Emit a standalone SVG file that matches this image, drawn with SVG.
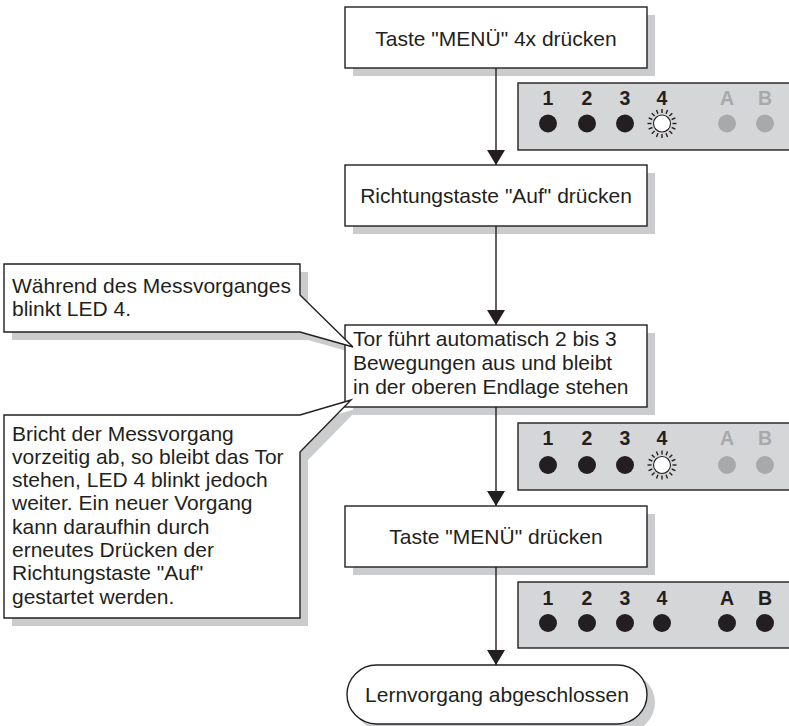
<svg xmlns="http://www.w3.org/2000/svg" width="789" height="726" viewBox="0 0 789 726">
<style>
.bg{fill:#ffffff}
.box{fill:#ffffff;stroke:#231f20;stroke-width:1.4}
.sh{fill:#cbcccd;stroke:none}
.panel{fill:#d5d6d8;stroke:#231f20;stroke-width:1.4}
.t{font-family:"Liberation Sans",Arial,sans-serif;font-size:21px;fill:#231f20}
.c{text-anchor:middle}
.num{font-family:"Liberation Sans",Arial,sans-serif;font-size:19.5px;font-weight:bold;fill:#231f20;text-anchor:middle}
.off{fill:#a8a9ab}
.led{fill:#231f20}
.ledoff{fill:#a8a9ab}
.conn line{stroke:#231f20;stroke-width:1.4}
</style>
<defs>
<marker id="ah" markerWidth="15" markerHeight="18" refX="15" refY="9" orient="auto" markerUnits="userSpaceOnUse" viewBox="0 0 15 18">
<path d="M0,0 L15,9 L0,18 Z" fill="#231f20"/>
</marker>
<g id="blink">
<circle r="8.5" fill="#ffffff" stroke="#231f20" stroke-width="1.1"/>
<g stroke="#231f20" stroke-width="1.4">
<line x1="0" y1="-10.5" x2="0" y2="-14.5"/>
<line x1="0" y1="-10.5" x2="0" y2="-14.5" transform="rotate(22.5)"/>
<line x1="0" y1="-10.5" x2="0" y2="-14.5" transform="rotate(45)"/>
<line x1="0" y1="-10.5" x2="0" y2="-14.5" transform="rotate(67.5)"/>
<line x1="0" y1="-10.5" x2="0" y2="-14.5" transform="rotate(90)"/>
<line x1="0" y1="-10.5" x2="0" y2="-14.5" transform="rotate(112.5)"/>
<line x1="0" y1="-10.5" x2="0" y2="-14.5" transform="rotate(135)"/>
<line x1="0" y1="-10.5" x2="0" y2="-14.5" transform="rotate(157.5)"/>
<line x1="0" y1="-10.5" x2="0" y2="-14.5" transform="rotate(180)"/>
<line x1="0" y1="-10.5" x2="0" y2="-14.5" transform="rotate(202.5)"/>
<line x1="0" y1="-10.5" x2="0" y2="-14.5" transform="rotate(225)"/>
<line x1="0" y1="-10.5" x2="0" y2="-14.5" transform="rotate(247.5)"/>
<line x1="0" y1="-10.5" x2="0" y2="-14.5" transform="rotate(270)"/>
<line x1="0" y1="-10.5" x2="0" y2="-14.5" transform="rotate(292.5)"/>
<line x1="0" y1="-10.5" x2="0" y2="-14.5" transform="rotate(315)"/>
<line x1="0" y1="-10.5" x2="0" y2="-14.5" transform="rotate(337.5)"/>
</g>
</g>
</defs>
<rect class="bg" x="0" y="0" width="789" height="726"/>

<!-- shadows -->
<g id="shadows">
<rect class="sh" x="353" y="15" width="302" height="61"/>
<rect class="sh" x="353" y="173" width="302" height="61"/>
<rect class="sh" x="353" y="333" width="302" height="82"/>
<rect class="sh" x="353" y="514" width="302" height="61"/>
<rect class="sh" x="355" y="673" width="300" height="59" rx="29.5" ry="29.5"/>
<path class="sh" d="M12,272 H308 V303 L361,355 L308,340 H12 Z"/>
<path class="sh" d="M12,423 H308 L359,408 L308,460 V626 H12 Z"/>
</g>

<!-- connectors -->
<g id="connectors" class="conn">
<line x1="496" y1="68" x2="496" y2="165" marker-end="url(#ah)"/>
<line x1="496" y1="226" x2="496" y2="325" marker-end="url(#ah)"/>
<line x1="496" y1="407" x2="496" y2="506" marker-end="url(#ah)"/>
<line x1="496" y1="567" x2="496" y2="665" marker-end="url(#ah)"/>
</g>

<g id="step1">
<rect class="box" x="345" y="7" width="302" height="61"/>
<text class="t c" x="496" y="45.5">Taste "MENÜ" 4x drücken</text>
</g>

<g id="panel1">
<rect class="panel" x="518" y="83" width="290" height="67"/>
<text class="num" x="548" y="105">1</text>
<text class="num" x="587" y="105">2</text>
<text class="num" x="625" y="105">3</text>
<text class="num" x="662" y="105">4</text>
<text class="num off" x="727" y="105">A</text>
<text class="num off" x="765" y="105">B</text>
<circle class="led" cx="548" cy="123.5" r="9"/>
<circle class="led" cx="587" cy="123.5" r="9"/>
<circle class="led" cx="625" cy="123.5" r="9"/>
<use href="#blink" x="662" y="123.5"/>
<circle class="ledoff" cx="727" cy="123.5" r="9"/>
<circle class="ledoff" cx="765" cy="123.5" r="9"/>
</g>

<g id="step2">
<rect class="box" x="345" y="165" width="302" height="61"/>
<text class="t c" x="496" y="203">Richtungstaste "Auf" drücken</text>
</g>

<g id="step3">
<rect class="box" x="345" y="325" width="302" height="82"/>
<text class="t" x="353" y="346">Tor führt automatisch 2 bis 3</text>
<text class="t" x="353" y="370">Bewegungen aus und bleibt</text>
<text class="t" x="353" y="393.5">in der oberen Endlage stehen</text>
</g>

<g id="panel2">
<rect class="panel" x="518" y="423" width="290" height="67"/>
<text class="num" x="548" y="445">1</text>
<text class="num" x="587" y="445">2</text>
<text class="num" x="625" y="445">3</text>
<text class="num" x="662" y="445">4</text>
<text class="num off" x="727" y="445">A</text>
<text class="num off" x="765" y="445">B</text>
<circle class="led" cx="548" cy="465" r="9"/>
<circle class="led" cx="587" cy="465" r="9"/>
<circle class="led" cx="625" cy="465" r="9"/>
<use href="#blink" x="662" y="465"/>
<circle class="ledoff" cx="727" cy="465" r="9"/>
<circle class="ledoff" cx="765" cy="465" r="9"/>
</g>

<g id="step4">
<rect class="box" x="345" y="506" width="302" height="61"/>
<text class="t c" x="496" y="544">Taste "MENÜ" drücken</text>
</g>

<g id="panel3">
<rect class="panel" x="518" y="582" width="290" height="66"/>
<text class="num" x="548" y="605">1</text>
<text class="num" x="587" y="605">2</text>
<text class="num" x="625" y="605">3</text>
<text class="num" x="662" y="605">4</text>
<text class="num" x="727" y="605">A</text>
<text class="num" x="765" y="605">B</text>
<circle class="led" cx="548" cy="623" r="9"/>
<circle class="led" cx="587" cy="623" r="9"/>
<circle class="led" cx="625" cy="623" r="9"/>
<circle class="led" cx="662" cy="623" r="9"/>
<circle class="led" cx="727" cy="623" r="9"/>
<circle class="led" cx="765" cy="623" r="9"/>
</g>

<g id="end">
<rect class="box" x="347" y="665" width="300" height="59" rx="29.5" ry="29.5"/>
<text class="t c" x="497" y="702">Lernvorgang abgeschlossen</text>
</g>

<g id="note1">
<path class="box" d="M4,264 H300 V295 L353,347 L300,332 H4 Z"/>
<text class="t" x="12" y="292.5">Während des Messvorganges</text>
<text class="t" x="12" y="315.5">blinkt LED 4.</text>
</g>

<g id="note2">
<path class="box" d="M4,415 H300 L351,400 L300,452 V618 H4 Z"/>
<text class="t" x="12" y="440.5">Bricht der Messvorgang</text>
<text class="t" x="12" y="463.8">vorzeitig ab, so bleibt das Tor</text>
<text class="t" x="12" y="487.1">stehen, LED 4 blinkt jedoch</text>
<text class="t" x="12" y="510.4">weiter. Ein neuer Vorgang</text>
<text class="t" x="12" y="533.7">kann daraufhin durch</text>
<text class="t" x="12" y="557">erneutes Drücken der</text>
<text class="t" x="12" y="580.3">Richtungstaste "Auf"</text>
<text class="t" x="12" y="603.6">gestartet werden.</text>
</g>
</svg>
